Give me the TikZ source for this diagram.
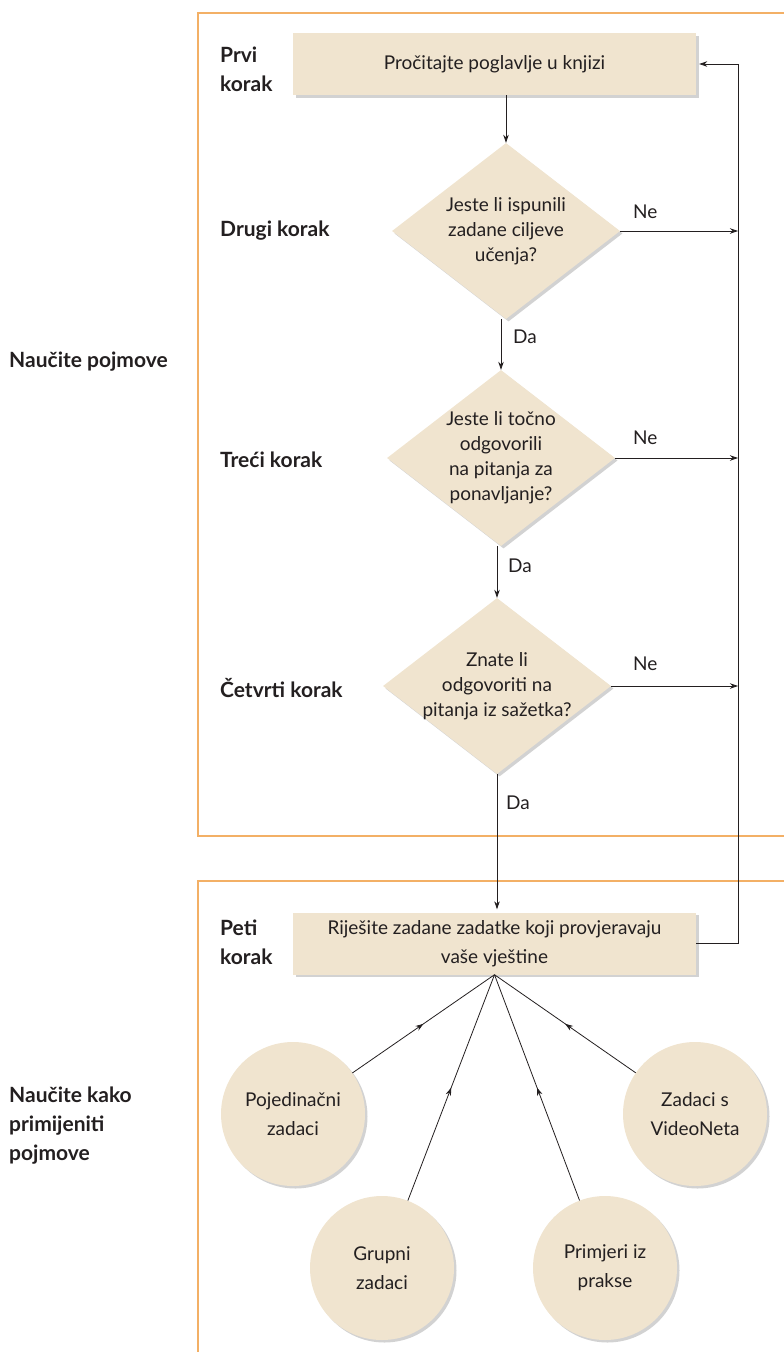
\documentclass[tikz,border=0pt]{standalone}
\usepackage{fontspec}
\setmainfont{Lato}
\usetikzlibrary{shapes.geometric,arrows.meta,shadows,decorations.markings}
\definecolor{beige}{RGB}{240,228,207}
\definecolor{frameorange}{RGB}{243,176,102}
\definecolor{ink}{RGB}{35,31,32}
\tikzset{
	softshadow/.style={drop shadow={shadow xshift=2.5pt,shadow yshift=-2.5pt,opacity=0.25,fill=black!70}},
	stepbox/.style={fill=beige,softshadow,minimum width=403pt,minimum height=62pt,align=center},
	question/.style={diamond,fill=beige,softshadow,aspect=1.3,minimum width=228pt,minimum height=176pt,inner sep=-10pt,align=center},
	task/.style={circle,fill=beige,softshadow,minimum size=144pt,inner sep=0pt,align=center,font=\fontsize{19}{29}\selectfont},
	steplabel/.style={anchor=west,inner sep=0pt,align=left,font=\bfseries\fontsize{21}{29}\selectfont},
	answer/.style={anchor=west,inner sep=0pt},
	frame/.style={frameorange,line width=1.5pt},
	flow/.style={ink,line width=0.8pt,-{Stealth[length=8pt,width=5.5pt]}},
	midarrow/.style={ink,line width=0.8pt,postaction={decorate},
		decoration={markings,mark=at position 0.5 with {\arrow{Stealth[length=8pt,width=5.5pt]}}}}
}
\begin{document}
\begin{tikzpicture}[x=1pt,y=-1pt,font=\fontsize{19}{25}\selectfont,text=ink]
	\useasboundingbox (0,0) rectangle (784,1352);

	\draw[frame] (784,13) -- (198,13) -- (198,836) -- (784,836);
	\draw[frame] (784,881) -- (198,881) -- (198,1352);

	\node[steplabel] (p1) at (9,362) {Naučite pojmove};
	\node[steplabel] (p2) at (9,1126) {Naučite kako\\primijeniti\\pojmove};

	\node[steplabel] (l1) at (220,69) {Prvi\\korak};
	\node[steplabel] (l2) at (220,231) {Drugi korak};
	\node[steplabel] (l3) at (220,460) {Treći korak};
	\node[steplabel] (l4) at (220,688) {Četvrti korak};
	\node[steplabel] (l5) at (220,942) {Peti\\korak};

	\node[stepbox] (b1) at (494.5,64) {Pročitajte poglavlje u knjizi};
	\node[question] (d1) at (506,231) {Jeste li ispunili\\zadane ciljeve\\učenja?};
	\node[question] (d2) at (501,458) {Jeste li točno\\odgovorili\\na pitanja za\\ponavljanje?};
	\node[question] (d3) at (497,686) {Znate li\\odgovoriti na\\pitanja iz sažetka?};
	\node[stepbox] (b2) at (494.5,943.5) {Riješite zadane zadatke koji provjeravaju\\[4pt]vaše vještine};

	\node[task] (c1) at (293,1114) {Pojedinačni\\zadaci};
	\node[task] (c2) at (382,1268) {Grupni\\zadaci};
	\node[task] (c3) at (605,1268) {Primjeri iz\\prakse};
	\node[task] (c4) at (695,1114) {Zadaci s\\VideoNeta};

	\node[answer] (n1) at (633,212) {Ne};
	\node[answer] (n2) at (633,438) {Ne};
	\node[answer] (n3) at (633,664) {Ne};
	\node[answer] (y1) at (513,337) {Da};
	\node[answer] (y2) at (508,566) {Da};
	\node[answer] (y3) at (506,803) {Da};

	\coordinate (fb) at (738,0);

	\draw[flow] (d1.north |- b1.south) -- (d1.north);
	\draw[flow] (d2.north |- d1.south) -- (d2.north);
	\draw[flow] (d3.north |- d2.south) -- (d3.north);
	\draw[flow,shorten >=3pt] (d3.south) -- (d3.south |- b2.north);

	\draw[flow] (d1.east) -- (d1.east -| fb);
	\draw[flow] (d2.east) -- (d2.east -| fb);
	\draw[flow] (d3.east) -- (d3.east -| fb);
	\draw[flow,shorten >=3pt] (b2.east) -- (b2.east -| fb) -- (b1.east -| fb) -- (b1.east);

	\foreach \c in {c1,c2,c3,c4}
		\draw[midarrow] (\c) -- (b2.south);
\end{tikzpicture}
\end{document}
